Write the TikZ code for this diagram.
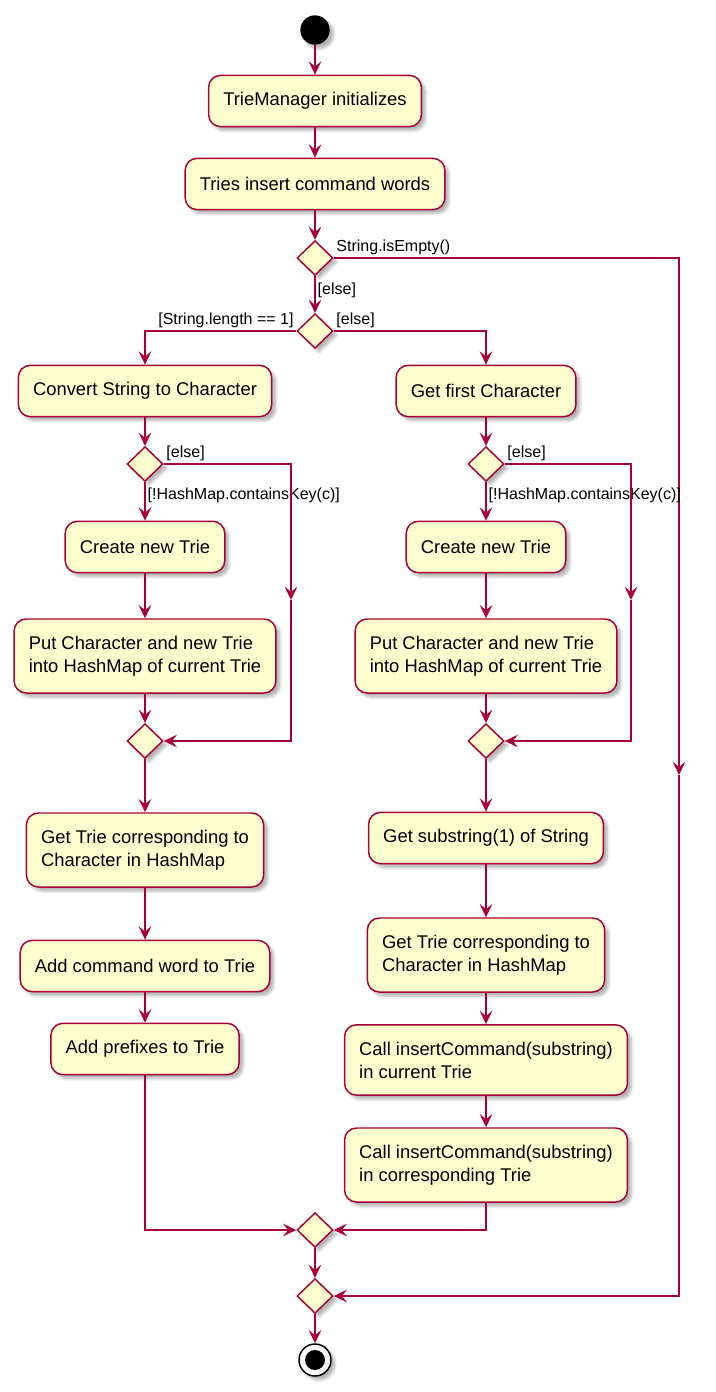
\documentclass[tikz,border=0pt]{standalone}
\usepackage{fontspec}
\setmainfont{Liberation Sans}
\usetikzlibrary{arrows.meta,shapes.geometric,shadows.blur}

\definecolor{umlred}{HTML}{A80036}
\definecolor{umlfill}{HTML}{FEFECE}

\tikzset{
  umlshadow/.style={blur shadow={shadow xshift=3pt, shadow yshift=-3pt, shadow blur steps=6, shadow opacity=30}},
  act/.style={draw=umlred, fill=umlfill, line width=1.1pt, rounded corners=9pt,
    inner xsep=11pt, inner ysep=12.7pt, minimum height=38.5pt, align=left,
    font=\fontsize{13.8}{17.25}\selectfont, umlshadow},
  branch/.style={diamond, draw=umlred, fill=umlfill, line width=1.1pt,
    minimum width=27pt, minimum height=26pt, inner sep=0pt, umlshadow},
  flow/.style={draw=umlred, line width=1.1pt, -{Stealth[length=10pt, width=9.5pt, inset=4pt]}},
  guard/.style={font=\fontsize{12}{14}\selectfont, inner sep=1.5pt}
}

\begin{document}
\begin{tikzpicture}[x=0.75pt, y=-0.75pt]

\useasboundingbox (0,0) rectangle (716,1392);

\node[circle, fill=black, minimum size=22pt, inner sep=0pt, umlshadow] (start) at (315,30) {};
\node[act] (init) at (315,101) {TrieManager initializes};
\node[act] (insert) at (315,184) {Tries insert command words};
\node[branch] (empty) at (315,258) {};
\node[branch] (length) at (315,331) {};

% one character left
\node[act] (convert) at (145,391) {Convert String to Character};
\node[branch] (hasl) at (145,464) {};
\node[act] (newl) at (145,547) {Create new Trie};
\node[act] (putl) at (145,656) {Put Character and new Trie\\into HashMap of current Trie};
\node[branch] (joinl) at (145,741) {};
\node[act] (getl) at (145,850) {Get Trie corresponding to\\Character in HashMap};
\node[act] (addword) at (145,966) {Add command word to Trie};
\node[act] (prefix) at (145,1049) {Add prefixes to Trie};

% more characters left
\node[act] (first) at (486,391) {Get first Character};
\node[branch] (hasr) at (486,464) {};
\node[act] (newr) at (486,547) {Create new Trie};
\node[act] (putr) at (486,656) {Put Character and new Trie\\into HashMap of current Trie};
\node[branch] (joinr) at (486,741) {};
\node[act] (substr) at (486,838) {Get substring(1) of String};
\node[act] (getr) at (486,955) {Get Trie corresponding to\\Character in HashMap};
\node[act] (callcur) at (486,1060) {Call insertCommand(substring)\\in current Trie};
\node[act] (callcorr) at (486,1165) {Call insertCommand(substring)\\in corresponding Trie};

\node[branch] (merge1) at (315,1230) {};
\node[branch] (merge2) at (315,1296) {};
\node[circle, draw=black, line width=1.1pt, fill=white, minimum size=24pt, inner sep=0pt, umlshadow] (stop) at (315,1360) {};
\node[circle, fill=black, minimum size=15pt, inner sep=0pt] (stopdot) at (stop) {};

\coordinate (skip) at (679,775);
\coordinate (skipl) at (291,600);
\coordinate (skipr) at (631,600);

\draw[flow] (start) -- (init);
\draw[flow] (init) -- (insert);
\draw[flow] (insert) -- (empty);
\draw[flow] (empty) -- node[guard, anchor=west, pos=0.4] {[else]} (length);
\draw[flow] (empty.east) -| node[guard, anchor=south west, pos=0] {String.isEmpty()} (skip);
\draw[flow] (skip) |- (merge2.east);

\draw[flow] (length.west) -| node[guard, anchor=south east, pos=0] {[String.length == 1]} (convert);
\draw[flow] (length.east) -| node[guard, anchor=south west, pos=0] {[else]} (first);

\draw[flow] (convert) -- (hasl);
\draw[flow] (hasl) -- node[guard, anchor=north west, pos=0, yshift=-2pt] {[!HashMap.containsKey(c)]} (newl);
\draw[flow] (hasl.east) -| node[guard, anchor=south west, pos=0] {[else]} (skipl);
\draw[flow] (skipl) |- (joinl.east);
\draw[flow] (newl) -- (putl);
\draw[flow] (putl) -- (joinl);
\draw[flow] (joinl) -- (getl);
\draw[flow] (getl) -- (addword);
\draw[flow] (addword) -- (prefix);
\draw[flow] (prefix) |- (merge1.west);

\draw[flow] (first) -- (hasr);
\draw[flow] (hasr) -- node[guard, anchor=north west, pos=0, yshift=-2pt] {[!HashMap.containsKey(c)]} (newr);
\draw[flow] (hasr.east) -| node[guard, anchor=south west, pos=0] {[else]} (skipr);
\draw[flow] (skipr) |- (joinr.east);
\draw[flow] (newr) -- (putr);
\draw[flow] (putr) -- (joinr);
\draw[flow] (joinr) -- (substr);
\draw[flow] (substr) -- (getr);
\draw[flow] (getr) -- (callcur);
\draw[flow] (callcur) -- (callcorr);
\draw[flow] (callcorr) |- (merge1.east);

\draw[flow] (merge1) -- (merge2);
\draw[flow] (merge2) -- (stop);

\end{tikzpicture}
\end{document}
